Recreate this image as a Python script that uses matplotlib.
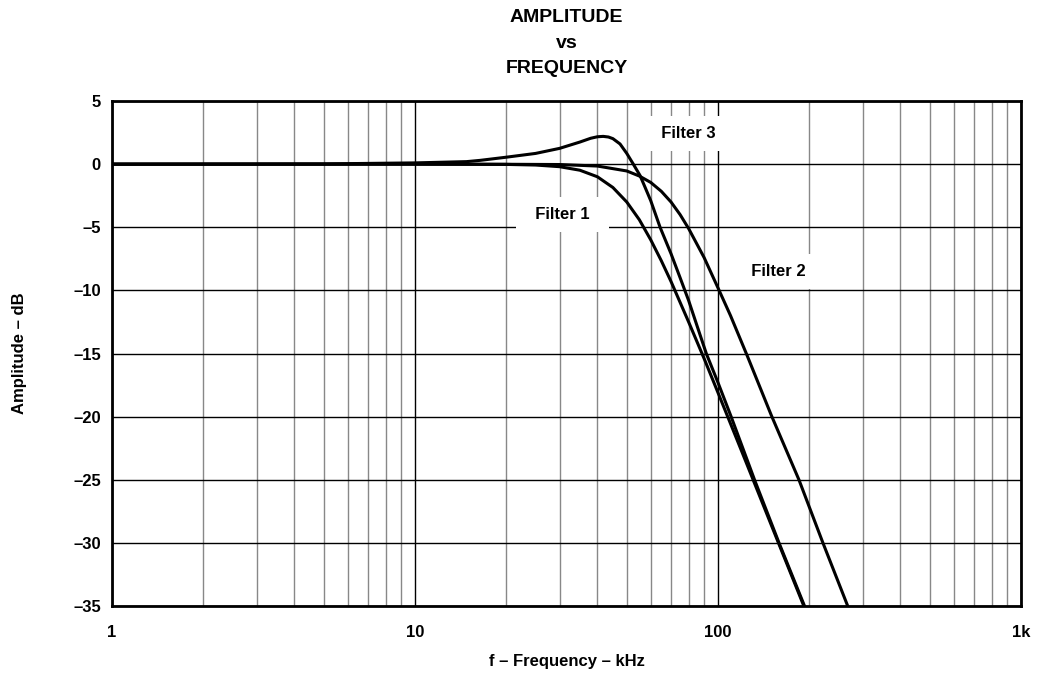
import matplotlib
matplotlib.use("Agg")
import matplotlib.pyplot as plt
from matplotlib.ticker import FixedLocator, NullFormatter

plt.rcParams["font.family"] = ["Liberation Sans", "DejaVu Sans"]
plt.rcParams["font.weight"] = "bold"

# values (kHz, dB)
f1 = [1, 5, 10, 15, 20, 25, 30, 35, 40, 45, 50, 55, 60, 65, 70, 80, 90, 100, 120, 150, 192]
db1 = [0, 0, 0, -0.01, -0.02, -0.07, -0.2, -0.48, -1.0, -1.85, -3.0, -4.4, -6.0, -7.65,
       -9.3, -12.5, -15.4, -18.1, -22.8, -28.6, -35.0]

f2 = [1, 10, 20, 30, 40, 50, 55, 60, 65, 70, 75, 80, 90, 100, 110, 125, 150, 185, 222, 268]
db2 = [0, 0, -0.01, -0.03, -0.15, -0.54, -0.94, -1.45, -2.15, -3.0, -4.0, -5.1, -7.4,
       -9.8, -12.0, -15.2, -19.9, -25.0, -30.0, -35.0]

f3 = [1, 5, 10, 14.8, 16.4, 20, 25, 30, 35, 38, 40, 41.8, 43.5, 45, 47.5, 50, 52.4,
      55.3, 57.5, 60, 64.4, 70, 75, 80, 85, 91.5, 100, 110.5, 132, 159, 193]
db3 = [0, 0.02, 0.1, 0.2, 0.3, 0.55, 0.85, 1.25, 1.75, 2.05, 2.17, 2.2, 2.15, 2.02, 1.6,
       0.85, 0.05, -0.9, -1.85, -2.9, -5.0, -7.1, -9.0, -10.8, -12.7, -15.0, -17.3,
       -20.0, -25.0, -30.0, -35.0]

x_ticks = [1, 10, 100, 1000]
x_labels = ["1", "10", "100", "1k"]
y_ticks = [5, 0, -5, -10, -15, -20, -25, -30, -35]
y_labels = ["5", "0", "–5", "–10", "–15", "–20", "–25", "–30", "–35"]

labels = ["Filter 1", "Filter 2", "Filter 3"]
label_pos = [(30.6, -4.0), (158, -8.5), (80, 2.45)]

fig = plt.figure(figsize=(10.38, 6.74), dpi=100)
ax = fig.add_axes([0.1079, 0.1009, 0.8757, 0.7492])

ax.set_xscale("log")
ax.set_xlim(1, 1000)
ax.set_ylim(-35, 5)

# grid: decades and 5 dB lines black, minor decades grey
minor = [m * d for d in (1, 10, 100) for m in range(2, 10)]
ax.xaxis.set_minor_locator(FixedLocator(minor))
ax.xaxis.set_minor_formatter(NullFormatter())
ax.set_xticks(x_ticks)
ax.set_xticklabels(x_labels)
ax.set_yticks(y_ticks)
ax.set_yticklabels(y_labels)
ax.grid(which="major", color="black", linewidth=1.0, zorder=0.5)
ax.grid(which="minor", axis="x", color="#888888", linewidth=1.0, zorder=0.5)
ax.set_axisbelow(True)
ax.tick_params(which="both", length=0, labelsize=12)
ax.tick_params(axis="x", pad=14)
ax.tick_params(axis="y", pad=8)

for s in ax.spines.values():
    s.set_linewidth(2)

for f, db in ((f1, db1), (f2, db2), (f3, db3)):
    ax.plot(f, db, color="black", linewidth=2.2, zorder=3)

for lab, (x, y) in zip(labels, label_pos):
    ax.text(x, y, "  " + lab + "  ", ha="center", va="center", fontsize=12,
            fontweight="bold", zorder=2,
            bbox=dict(facecolor="white", edgecolor="none", boxstyle="square,pad=0.6"))

fig.text(0.5458, 1 - 43 / 674, "AMPLITUDE\nvs\nFREQUENCY", ha="center", va="center",
         fontsize=14, fontweight="bold", linespacing=1.65)
ax.set_xlabel("f – Frequency – kHz", fontsize=12, fontweight="bold", labelpad=10)
ax.set_ylabel("Amplitude – dB", fontsize=12, fontweight="bold", labelpad=33)

fig.savefig("out.png", dpi=100)
